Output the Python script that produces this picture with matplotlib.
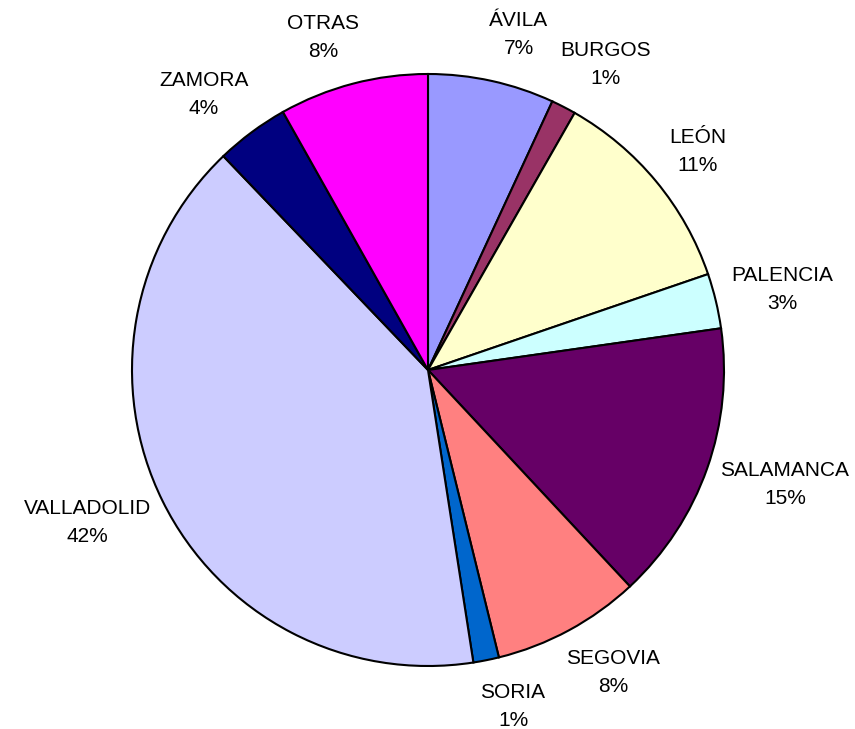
import matplotlib
matplotlib.use("Agg")
import matplotlib.pyplot as plt
import numpy as np

categories = ["ÁVILA", "BURGOS", "LEÓN", "PALENCIA", "SALAMANCA",
              "SEGOVIA", "SORIA", "VALLADOLID", "ZAMORA", "OTRAS"]
values = [6.9, 1.35, 11.5, 3.0, 15.3, 8.1, 1.4, 40.3, 4.0, 8.15]
pct_labels = ["7%", "1%", "11%", "3%", "15%", "8%", "1%", "42%", "4%", "8%"]
colors = ["#9999FF", "#993366", "#FFFFCC", "#CCFFFF", "#660066",
          "#FF8080", "#0066CC", "#CCCCFF", "#000080", "#FF00FF"]

plt.rcParams['font.family'] = ['Liberation Sans', 'DejaVu Sans']

W, H = 855, 729
fig = plt.figure(figsize=(W / 100, H / 100), dpi=100)
ax = fig.add_axes([0, 0, 1, 1])

R = 296.0
cx, cy = 428.0, 370.0  # pixel center (from top)

wedges, _ = ax.pie(values, colors=colors, startangle=90, counterclock=False,
                   wedgeprops=dict(edgecolor="black", linewidth=1.5))

ax.set_xlim(-cx / R, (W - cx) / R)
ax.set_ylim(-(H - cy) / R, cy / R)
ax.set_aspect("equal")
ax.axis("off")

renderer = fig.canvas.get_renderer()
gap = 16.0
total = sum(values)
cum = 0.0
for cat, pct, v in zip(categories, pct_labels, values):
    mid = (cum + v / 2) / total * 2 * np.pi  # clockwise from top
    cum += v
    s, c = np.sin(mid), np.cos(mid)
    t = ax.text(0, 0, f"{cat}\n{pct}", ha="center", va="center",
                fontsize=15, linespacing=1.6, color="black")
    bb = t.get_window_extent(renderer)
    hw, hh = bb.width / 2, bb.height / 2
    dx = (R + gap) * s + hw * s + 18 * np.sign(s) * c * c
    dy = (R + gap) * c + (hh + 8) * c
    t.set_position((dx / R, dy / R))

fig.savefig("out.png", dpi=100, facecolor="white")
